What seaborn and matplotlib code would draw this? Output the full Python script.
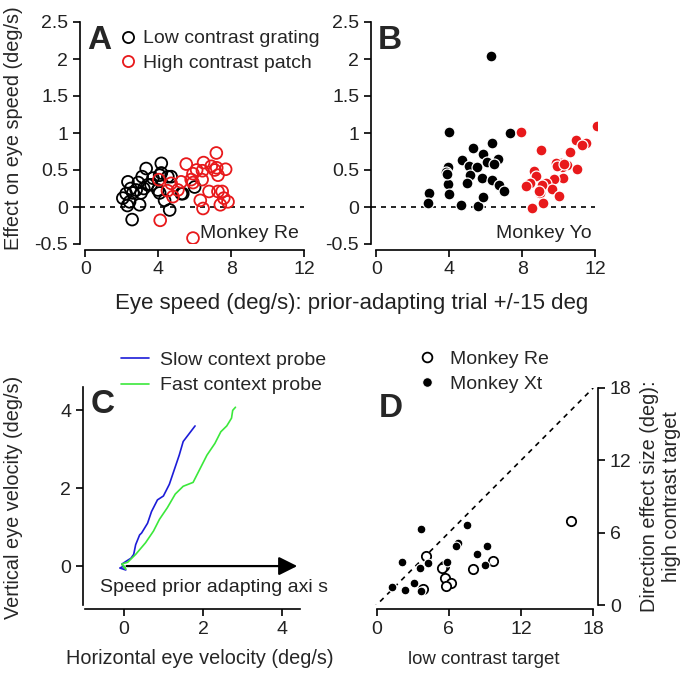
import numpy as np
import pandas as pd
import matplotlib
matplotlib.use("Agg")
import matplotlib.pyplot as plt
import seaborn as sns
from matplotlib.lines import Line2D

sns.set_style("ticks")
plt.rcParams['font.family'] = ['Liberation Sans', 'DejaVu Sans']

# panel A - monkey Re (open circles)
a_low_x = [2.05, 2.23, 2.33, 2.42, 2.48, 2.56, 2.6, 2.78, 2.97, 3.05, 3.11, 3.33, 3.42, 3.6, 3.7,
           2.9, 4.07, 4.07, 4.16, 4.16, 4.34, 4.52, 4.62, 4.7, 5.26, 5.34, 5.99, 3.2, 3.97, 2.3]
a_low_y = [0.12, 0.18, 0.34, 0.07, 0.25, -0.17, 0.19, 0.23, 0.03, 0.19, 0.41, 0.52, 0.30, 0.30, 0.39,
           0.33, 0.43, 0.19, 0.59, 0.46, 0.09, 0.41, -0.04, 0.41, 0.18, 0.18, 0.27, 0.25, 0.23, 0.02]
a_high_x = [7.18, 5.53, 6.48, 5.9, 4.03, 4.7, 5.25, 5.8, 6.4, 7.2, 7.69, 7.27, 4.8, 5.07, 6.3,
            6.78, 7.27, 7.5, 7.59, 7.82, 7.4, 6.45, 4.1, 5.9, 6.42, 7.09, 5.9, 6.9, 6.1, 4.5]
a_high_y = [0.73, 0.58, 0.60, 0.45, 0.37, 0.32, 0.34, 0.37, 0.37, 0.53, 0.51, 0.43, 0.14, 0.23, 0.09,
            0.21, 0.21, 0.21, 0.12, 0.07, 0.03, -0.02, -0.18, -0.42, 0.49, 0.50, 0.33, 0.55, 0.50, 0.22]

# panel B - monkey Yo (filled circles)
b_low_x = [6.28, 4.0, 7.31, 6.34, 5.32, 5.84, 4.68, 6.67, 6.04, 5.05, 5.54, 6.43, 3.94, 3.81,
           5.14, 5.78, 4.96, 6.35, 6.7, 6.98, 3.94, 2.9, 4.0, 2.84, 4.62, 5.56, 5.82, 3.85]
b_low_y = [2.04, 1.01, 1.0, 0.87, 0.80, 0.71, 0.63, 0.65, 0.61, 0.56, 0.54, 0.58, 0.54, 0.47,
           0.43, 0.39, 0.33, 0.37, 0.30, 0.22, 0.31, 0.19, 0.18, 0.06, 0.03, 0.02, 0.13, 0.44]
b_high_x = [7.94, 12.1, 10.94, 11.5, 11.3, 9.0, 10.63, 10.11, 9.83, 10.48, 11.03, 10.2, 9.9, 8.64,
            8.73, 10.25, 9.74, 9.28, 8.42, 8.2, 9.65, 8.96, 10.0, 9.16, 8.53, 9.1, 10.3, 8.9]
b_high_y = [1.02, 1.09, 0.91, 0.86, 0.84, 0.77, 0.74, 0.59, 0.60, 0.57, 0.51, 0.54, 0.55, 0.48,
            0.42, 0.39, 0.38, 0.33, 0.33, 0.29, 0.25, 0.19, 0.15, 0.06, -0.01, 0.30, 0.58, 0.22]

# panel C - eye velocity traces
slow_h = [0.0, -0.1, 0.05, -0.05, 0.1, 0.18, 0.25, 0.3, 0.4, 0.45, 0.6, 0.7, 0.85, 1.0, 1.15, 1.25,
          1.35, 1.4, 1.5, 1.65, 1.8]
slow_v = [0.0, -0.05, -0.1, 0.05, 0.15, 0.2, 0.3, 0.55, 0.8, 0.85, 1.1, 1.4, 1.7, 1.8, 2.1, 2.4,
          2.7, 2.85, 3.2, 3.4, 3.6]
fast_h = [0.0, 0.05, -0.05, 0.1, 0.3, 0.55, 0.75, 0.9, 1.1, 1.3, 1.5, 1.75, 1.9, 2.1, 2.3,
          2.45, 2.6, 2.72, 2.75, 2.82]
fast_v = [0.0, -0.08, 0.05, 0.1, 0.3, 0.6, 0.9, 1.2, 1.5, 1.85, 2.05, 2.15, 2.45, 2.85, 3.15,
          3.45, 3.6, 3.8, 4.0, 4.08]

# panel D - direction effect size
re_low = [16.14, 4.14, 5.58, 7.97, 9.69, 5.67, 6.22, 5.75, 3.86, 5.4]
re_high = [6.97, 4.03, 3.25, 3.0, 3.69, 2.22, 1.86, 1.58, 1.31, 3.1]
xt_low = [3.72, 7.53, 6.78, 6.58, 9.19, 8.31, 2.14, 4.28, 3.58, 5.86, 9.0, 1.31, 2.33, 3.08, 3.72]
xt_high = [6.3, 6.67, 5.14, 4.86, 4.92, 4.2, 3.58, 3.47, 3.11, 3.58, 3.28, 1.53, 1.25, 1.86, 1.17]

RED = '#e8191b'
FS = 14
LFS = 14.3
TXT = '#222222'

fig = plt.figure(figsize=(6.93, 6.75), dpi=100)
axA = fig.add_axes([80/693, 1-244/675, 226/693, 222/675])
axB = fig.add_axes([371/693, 1-244/675, 226/693, 222/675])
axC = fig.add_axes([83/693, 1-605/675, 219/693, 218/675])
axD = fig.add_axes([373/693, 1-605/675, 225/693, 217/675])


def style_ab(ax):
    ax.set_xlim(-0.3, 12.1)
    ax.set_ylim(-0.5, 2.5)
    ax.set_xticks([0, 4, 8, 12])
    ax.set_yticks([-0.5, 0, 0.5, 1, 1.5, 2, 2.5])
    ax.set_yticklabels(['-0.5', '0', '0.5', '1', '1.5', '2', '2.5'])
    ax.spines['bottom'].set_bounds(0, 12)
    ax.spines['bottom'].set_position(('outward', 4))
    for s in ['top', 'right']:
        ax.spines[s].set_visible(False)
    ax.plot([-0.3, 12], [0, 0], ls=(0, (3, 3)), color='black', lw=1.2, zorder=0)
    ax.tick_params(labelsize=FS, width=1.2, length=5, color='black', labelcolor=TXT)
    ax.set_xlabel('')
    ax.set_ylabel('')


# panel A
sns.scatterplot(x=a_low_x, y=a_low_y, ax=axA, marker='o', s=72, facecolors='none',
                edgecolor='black', linewidth=1.3, zorder=3)
sns.scatterplot(x=a_high_x, y=a_high_y, ax=axA, marker='o', s=72, facecolors='none',
                edgecolor=RED, linewidth=1.3, zorder=3)
style_ab(axA)
axA.set_ylabel('Effect on eye speed (deg/s)', fontsize=LFS, va='center')
axA.yaxis.set_label_coords((14 - 80) / 226, (244 - 128) / 222)
axA.text(0.03, 0.985, 'A', transform=axA.transAxes, fontsize=24, fontweight='bold',
         va='top', ha='left')
handles = [Line2D([], [], ls='', marker='o', mfc='none', mec='black', mew=1.3, ms=8),
           Line2D([], [], ls='', marker='o', mfc='none', mec=RED, mew=1.3, ms=8)]
axA.legend(handles, ['Low contrast grating', 'High contrast patch'], loc='upper left',
           bbox_to_anchor=(0.15, 1.0), frameon=False, fontsize=FS, handlelength=0.6,
           handletextpad=0.5, labelspacing=0.35, borderaxespad=0)
axA.text(6.3, -0.36, 'Monkey Re', fontsize=FS, va='center', ha='left', color=TXT)

# panel B
sns.scatterplot(x=b_low_x, y=b_low_y, ax=axB, marker='o', s=62, color='black',
                edgecolor='white', linewidth=0.9, zorder=3)
sns.scatterplot(x=b_high_x, y=b_high_y, ax=axB, marker='o', s=62, color=RED,
                edgecolor='white', linewidth=0.9, zorder=3)
style_ab(axB)
axB.text(0.03, 0.985, 'B', transform=axB.transAxes, fontsize=24, fontweight='bold',
         va='top', ha='left')
axB.text(11.8, -0.36, 'Monkey Yo', fontsize=FS, va='center', ha='right', color=TXT)

fig.text(352/693, 1-304/675, 'Eye speed (deg/s): prior-adapting trial +/-15 deg',
         fontsize=16, ha='center', va='center', color=TXT)

# panel C
trace = pd.DataFrame({
    'h': slow_h + fast_h,
    'v': slow_v + fast_v,
    'probe': ['Slow context probe'] * len(slow_h) + ['Fast context probe'] * len(fast_h),
})
sns.lineplot(data=trace, x='h', y='v', hue='probe', sort=False, estimator=None, ax=axC,
             palette={'Slow context probe': '#1c1cd8', 'Fast context probe': '#3be83b'},
             lw=1.2, zorder=3)
axC.set_xlim(-1.03, 4.5)
axC.set_ylim(-1.0, 4.6)
axC.set_xticks([0, 2, 4])
axC.set_yticks([0, 2, 4])
axC.spines['bottom'].set_bounds(-0.97, 4.45)
axC.spines['bottom'].set_position(('outward', 3))
for s in ['top', 'right']:
    axC.spines[s].set_visible(False)
axC.tick_params(labelsize=FS, width=1.2, length=5, color='black', labelcolor=TXT)
axC.set_xlabel('Horizontal eye velocity (deg/s)', fontsize=LFS, va='center')
axC.xaxis.set_label_coords((200 - 83) / 219, (605 - 659) / 218)
axC.set_ylabel('Vertical eye velocity (deg/s)', fontsize=LFS, va='center')
axC.yaxis.set_label_coords((14 - 83) / 219, (605 - 497) / 218)
axC.annotate('', xy=(4.45, 0), xytext=(0, 0),
             arrowprops=dict(arrowstyle='-|>', mutation_scale=28, lw=1.6, color='black'))
axC.text(-0.6, -0.55, 'Speed prior adapting axi s', fontsize=FS, va='center', ha='left',
         color=TXT)
axC.text(-0.85, 4.55, 'C', fontsize=24, fontweight='bold', va='top', ha='left')
axC.legend(loc='lower left', bbox_to_anchor=(0.14, 0.93), frameon=False, fontsize=FS,
           handlelength=1.4, handletextpad=0.6, labelspacing=0.4, borderaxespad=0,
           title=None)

# panel D
sns.scatterplot(x=re_low, y=re_high, ax=axD, marker='o', s=45, facecolors='white',
                edgecolor='black', linewidth=1.3, zorder=3)
sns.scatterplot(x=xt_low, y=xt_high, ax=axD, marker='o', s=40, color='black',
                edgecolor='white', linewidth=0.8, zorder=4)
axD.plot([-0.3, 18], [-0.3, 18], ls=(0, (3, 3)), color='black', lw=1.2, zorder=1)
axD.set_xlim(-0.3, 18.4)
axD.set_ylim(0, 18)
axD.set_xticks([0, 6, 12, 18])
axD.set_yticks([0, 6, 12, 18])
axD.spines['bottom'].set_bounds(0, 18)
axD.spines['bottom'].set_position(('outward', 3))
axD.spines['left'].set_visible(False)
axD.spines['top'].set_visible(False)
axD.spines['right'].set_visible(True)
axD.yaxis.tick_right()
axD.yaxis.set_label_position('right')
axD.tick_params(labelsize=FS, width=1.2, length=5, color='black', labelcolor=TXT)
axD.set_xlabel('low contrast target', fontsize=13.4, va='center')
axD.xaxis.set_label_coords((484 - 373) / 225, (605 - 659) / 217)
axD.set_ylabel('Direction effect size (deg):\nhigh contrast target', fontsize=LFS,
               labelpad=6, rotation=90)
axD.text(0.2, 17.6, 'D', fontsize=24, fontweight='bold', va='top', ha='left')
handles = [Line2D([], [], ls='', marker='o', mfc='white', mec='black', mew=1.3, ms=7),
           Line2D([], [], ls='', marker='o', mfc='black', mec='white', mew=0.8, ms=7)]
axD.legend(handles, ['Monkey Re', 'Monkey Xt'], loc='lower left', bbox_to_anchor=(0.18, 0.94),
           frameon=False, fontsize=FS, handlelength=0.6, handletextpad=0.9,
           labelspacing=0.4, borderaxespad=0)

for ax in [axA, axB, axC, axD]:
    for s in ax.spines.values():
        s.set_linewidth(1.2)
        s.set_color('black')

fig.savefig('out.png', dpi=100)
